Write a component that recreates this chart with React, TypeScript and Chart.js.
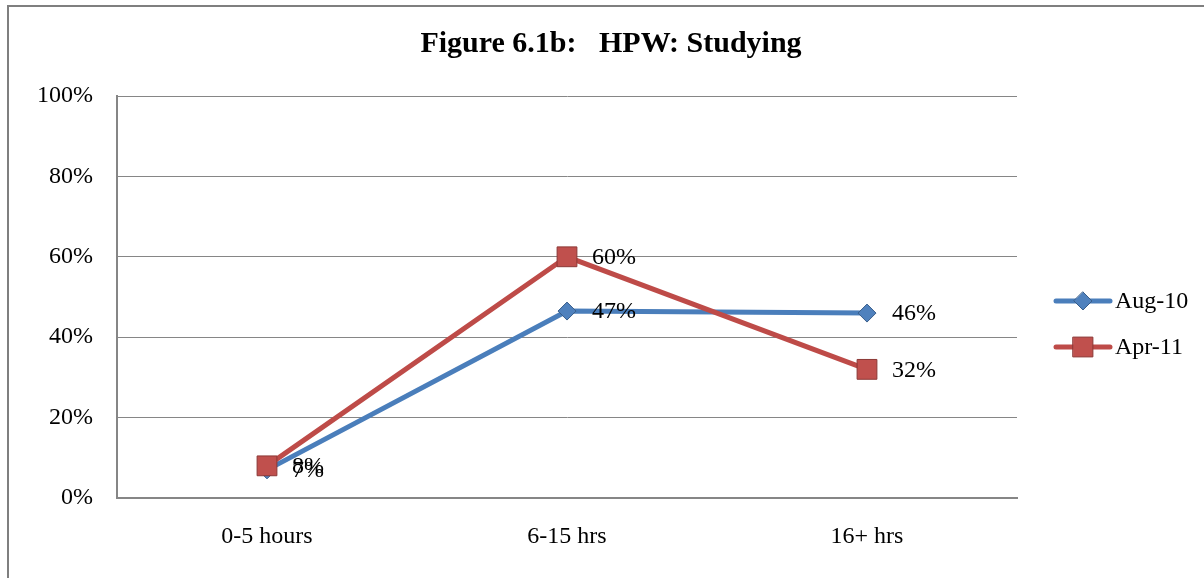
import React, { useEffect, useRef } from "react";
import { Chart, registerables } from "chart.js";

Chart.register(...registerables);

const TITLE = "Figure 6.1b:   HPW: Studying";
const categories = ["0-5 hours", "6-15 hrs", "16+ hrs"];
const seriesNames = ["Aug-10", "Apr-11"];
const aug10 = [0.07, 0.465, 0.46];
const apr11 = [0.08, 0.6, 0.32];
const yMin = 0;
const yMax = 1;
const yStep = 0.2;

const FONT = "'Liberation Serif', 'Times New Roman', serif";
const TEXT_SIZE = 24;

const BLUE_LINE = "#4A7EBB";
const BLUE_FILL = "#4F81BD";
const BLUE_EDGE = "#385D8A";
const RED_LINE = "#BE4B48";
const RED_FILL = "#C0504D";
const RED_EDGE = "#8C3836";
const GRID = "#868686";

function drawMarker(ctx: CanvasRenderingContext2D, style: string, x: number, y: number, r: number, fill: string, edge: string) {
  ctx.save();
  ctx.beginPath();
  if (style === "rectRot") {
    ctx.moveTo(x, y - r);
    ctx.lineTo(x + r, y);
    ctx.lineTo(x, y + r);
    ctx.lineTo(x - r, y);
    ctx.closePath();
  } else {
    const s = r * Math.SQRT1_2;
    ctx.rect(x - s, y - s, 2 * s, 2 * s);
  }
  ctx.fillStyle = fill;
  ctx.fill();
  ctx.lineWidth = 1;
  ctx.strokeStyle = edge;
  ctx.stroke();
  ctx.restore();
}

const titlePlugin = {
  id: "centerTitle",
  afterDraw(chart: any) {
    const ctx = chart.ctx as CanvasRenderingContext2D;
    ctx.save();
    ctx.font = `bold 30px ${FONT}`;
    ctx.fillStyle = "#000";
    ctx.textAlign = "center";
    ctx.textBaseline = "alphabetic";
    ctx.fillText(TITLE, chart.width / 2, 52);
    ctx.restore();
  },
};

const dataLabelPlugin = {
  id: "dataLabels",
  afterDatasetsDraw(chart: any) {
    const ctx = chart.ctx as CanvasRenderingContext2D;
    ctx.save();
    ctx.font = `${TEXT_SIZE}px ${FONT}`;
    ctx.fillStyle = "#000";
    ctx.textAlign = "left";
    ctx.textBaseline = "middle";
    chart.data.datasets.forEach((ds: any, i: number) => {
      const meta = chart.getDatasetMeta(i);
      meta.data.forEach((pt: any, j: number) => {
        const v = ds.data[j] as number;
        ctx.fillText(`${Math.round(v * 100)}%`, pt.x + 25, pt.y + 1);
      });
    });
    ctx.restore();
  },
};

const sideLegendPlugin = {
  id: "sideLegend",
  afterDraw(chart: any) {
    const ctx = chart.ctx as CanvasRenderingContext2D;
    const area = chart.chartArea;
    ctx.save();
    chart.data.datasets.forEach((ds: any, i: number) => {
      const y = area.top + 205 + i * 46;
      const x0 = area.right + 39;
      const x1 = area.right + 93;
      ctx.beginPath();
      ctx.moveTo(x0, y);
      ctx.lineTo(x1, y);
      ctx.strokeStyle = ds.borderColor;
      ctx.lineWidth = 5;
      ctx.lineCap = "round";
      ctx.stroke();
      drawMarker(ctx, ds.pointStyle, (x0 + x1) / 2, y, ds.pointRadius, ds.pointBackgroundColor, ds.pointBorderColor);
      ctx.font = `${TEXT_SIZE}px ${FONT}`;
      ctx.fillStyle = "#000";
      ctx.textAlign = "left";
      ctx.textBaseline = "middle";
      ctx.fillText(ds.label, area.right + 98, y + 1);
    });
    ctx.restore();
  },
};

export default function App() {
  const ref = useRef<HTMLCanvasElement | null>(null);

  useEffect(() => {
    if (!ref.current) return;
    const chart = new Chart(ref.current, {
      type: "line",
      data: {
        labels: categories,
        datasets: [
          {
            label: seriesNames[0],
            data: aug10,
            borderColor: BLUE_LINE,
            borderWidth: 5,
            pointStyle: "rectRot",
            pointRadius: 9,
            pointBackgroundColor: BLUE_FILL,
            pointBorderColor: BLUE_EDGE,
            pointBorderWidth: 1,
            tension: 0,
            order: 1,
          },
          {
            label: seriesNames[1],
            data: apr11,
            borderColor: RED_LINE,
            borderWidth: 5,
            pointStyle: "rect",
            pointRadius: 14,
            pointBackgroundColor: RED_FILL,
            pointBorderColor: RED_EDGE,
            pointBorderWidth: 1,
            tension: 0,
            order: 0,
          },
        ] as any,
      },
      options: {
        animation: false,
        responsive: false,
        maintainAspectRatio: false,
        layout: { padding: { left: 0, right: 197, top: 96, bottom: 0 } },
        plugins: {
          legend: { display: false },
          tooltip: { enabled: false },
          title: { display: false },
        },
        scales: {
          x: {
            offset: true,
            grid: { display: false, drawTicks: false },
            border: { color: GRID, width: 2 },
            ticks: { color: "#000", font: { family: FONT, size: TEXT_SIZE }, padding: 24 },
            afterFit: (s: any) => {
              s.height = 80;
            },
          },
          y: {
            min: yMin,
            max: yMax,
            grid: { color: GRID, lineWidth: 1, drawTicks: false },
            border: { color: GRID, width: 2 },
            ticks: {
              stepSize: yStep,
              color: "#000",
              font: { family: FONT, size: TEXT_SIZE },
              padding: 24,
              callback: (v: any) => `${Math.round(Number(v) * 100)}%`,
            },
            afterFit: (s: any) => {
              s.width = 109;
            },
          },
        },
      } as any,
      plugins: [titlePlugin, dataLabelPlugin, sideLegendPlugin],
    });
    return () => chart.destroy();
  }, []);

  return (
    <div style={{ position: "fixed", left: 0, top: 0, width: 1204, height: 578, overflow: "hidden", background: "#fff" }}>
      <div
        style={{
          position: "absolute",
          left: 7,
          top: 5,
          width: 1260,
          height: 700,
          border: "2px solid #7f7f7f",
          boxSizing: "border-box",
        }}
      />
      <canvas ref={ref} width={1206} height={578} style={{ position: "absolute", left: 8, top: 0, width: 1206, height: 578 }} />
    </div>
  );
}
